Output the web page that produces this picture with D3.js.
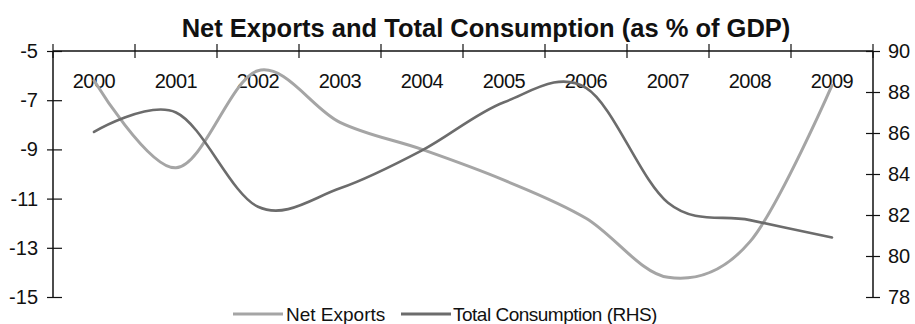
<!DOCTYPE html>
<html>
<head>
<meta charset="utf-8">
<script src="https://cdn.jsdelivr.net/npm/d3@7"></script>
<style>
  html, body { margin: 0; padding: 0; background: #fff; }
  svg { display: block; font-family: "Liberation Sans", Arial, sans-serif; }
</style>
</head>
<body>
<svg id="chart" width="915" height="324"></svg>
<script>
const years = ["2000","2001","2002","2003","2004","2005","2006","2007","2008","2009"];
const netExports = [-6.2, -9.75, -5.8, -7.9, -9.0, -10.25, -11.8, -14.2, -12.75, -6.4];
const totalConsumption = [86.05, 87.0, 82.4, 83.3, 85.15, 87.5, 88.2, 82.6, 81.75, 80.9];
const leftTicks = [-15, -13, -11, -9, -7, -5];
const rightTicks = [78, 80, 82, 84, 86, 88, 90];
const title = "Net Exports and Total Consumption (as % of GDP)";
const seriesNames = ["Net Exports", "Total Consumption (RHS)"];
const colors = ["#a5a5a5", "#6c6c6c"];

const svg = d3.select("#chart");
const L = 53, R = 873, T = 51, B = 297;

const x = d3.scaleBand().domain(years).range([L, R]).padding(0);
const yL = d3.scaleLinear().domain([-15, -5]).range([B, T]);
const yR = d3.scaleLinear().domain([78, 90]).range([B, T]);

// Title
svg.append("text")
  .attr("x", 486).attr("y", 37)
  .attr("text-anchor", "middle")
  .attr("font-size", 25.5).attr("font-weight", "bold")
  .attr("fill", "#111")
  .text(title);

// Top category axis
const gx = svg.append("g");
gx.append("line").attr("x1", L).attr("x2", R).attr("y1", T).attr("y2", T)
  .attr("stroke", "#111").attr("stroke-width", 1.5);
const bounds = years.map(d => x(d)).concat([R]);
gx.selectAll("line.tk").data(bounds).join("line").attr("class", "tk")
  .attr("x1", d => d).attr("x2", d => d).attr("y1", T - 7).attr("y2", T + 7)
  .attr("stroke", "#111").attr("stroke-width", 1.2);
gx.selectAll("text").data(years).join("text")
  .attr("x", d => x(d) + x.bandwidth() / 2).attr("y", 88)
  .attr("text-anchor", "middle").attr("font-size", 20).attr("fill", "#111")
  .attr("letter-spacing", -0.5)
  .text(d => d);

// Left axis
const gl = svg.append("g").attr("transform", `translate(${L},0)`)
  .call(d3.axisLeft(yL).tickValues(leftTicks).tickSize(7).tickPadding(8).tickFormat(d3.format("d")));
gl.select(".domain").attr("stroke", "#111").attr("stroke-width", 1.5).attr("d", `M0,${T}V${B}`);
gl.selectAll(".tick line").attr("x1", -6).attr("x2", 9).attr("stroke", "#111").attr("stroke-width", 1.2);
gl.selectAll(".tick text").attr("font-size", 20).attr("fill", "#111")
  .attr("font-family", "Liberation Sans, Arial, sans-serif")
  .text(d => d < 0 ? "-" + Math.abs(d) : d);

// Right axis
const gr = svg.append("g").attr("transform", `translate(${R},0)`)
  .call(d3.axisRight(yR).tickValues(rightTicks).tickSize(7).tickPadding(8));
gr.select(".domain").attr("stroke", "#111").attr("stroke-width", 1.5).attr("d", `M0,${T}V${B}`);
gr.selectAll(".tick line").attr("x1", -7).attr("x2", 7).attr("stroke", "#111").attr("stroke-width", 1.2);
gr.selectAll(".tick text").attr("font-size", 20).attr("fill", "#111")
  .attr("font-family", "Liberation Sans, Arial, sans-serif");

// Lines
const cx = d => x(d) + x.bandwidth() / 2;
const lineNE = d3.line().x((d, i) => cx(years[i])).y(d => yL(d)).curve(d3.curveCatmullRom.alpha(0));
const lineTC = d3.line().x((d, i) => cx(years[i])).y(d => yR(d)).curve(d3.curveCatmullRom.alpha(0));

svg.append("path").datum(netExports).attr("d", lineNE)
  .attr("fill", "none").attr("stroke", colors[0]).attr("stroke-width", 3).attr("stroke-linecap", "round");
svg.append("path").datum(totalConsumption).attr("d", lineTC)
  .attr("fill", "none").attr("stroke", colors[1]).attr("stroke-width", 2.6).attr("stroke-linecap", "round");

// Legend
const legendItems = [
  { name: seriesNames[0], color: colors[0], x1: 233, x2: 283, tx: 286, ls: 0 },
  { name: seriesNames[1], color: colors[1], x1: 401, x2: 451, tx: 453, ls: -0.5 }
];
const lg = svg.append("g");
legendItems.forEach(it => {
  lg.append("line").attr("x1", it.x1).attr("x2", it.x2).attr("y1", 314).attr("y2", 314)
    .attr("stroke", it.color).attr("stroke-width", 3);
  lg.append("text").attr("x", it.tx).attr("y", 321).attr("font-size", 19)
    .attr("fill", "#111").attr("letter-spacing", it.ls).text(it.name);
});
</script>
</body>
</html>
